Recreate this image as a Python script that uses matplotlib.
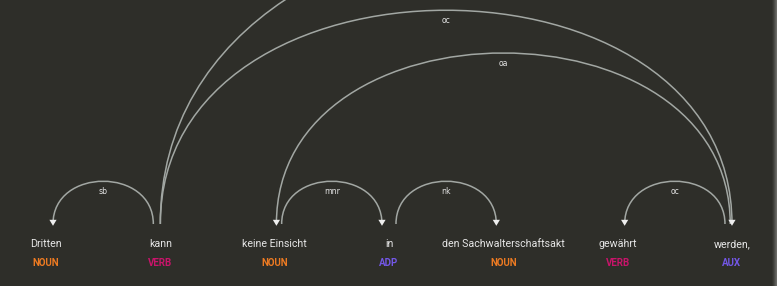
import matplotlib
matplotlib.use("Agg")
import matplotlib.pyplot as plt
from matplotlib.path import Path
from matplotlib.patches import PathPatch, Polygon, Rectangle
import numpy as np

# ---- data ----
words = ["Dritten", "kann", "keine Einsicht", "in",
         "den Sachwalterschaftsakt", "gewährt", "werden,"]
tags = ["NOUN", "VERB", "NOUN", "ADP", "NOUN", "VERB", "AUX"]
arc_heads = [1, 2, 3, 6, 6, 1, 1]
arc_deps = [0, 3, 4, 5, 2, 6, 8]
arc_labels = ["sb", "mnr", "nk", "oc", "oa", "oc", ""]

tag_colors = {"NOUN": "#ec7a22", "VERB": "#c8146a", "ADP": "#7357e6", "AUX": "#7357e6"}

# ---- layout ----
W, H = 777, 286
fig = plt.figure(figsize=(W / 100, H / 100), dpi=100)
ax = fig.add_axes([0, 0, 1, 1])
ax.set_xlim(0, W)
ax.set_ylim(H, 0)
ax.axis("off")
BG = "#2e2e29"
fig.patch.set_facecolor(BG)
ax.set_facecolor(BG)

X0, DIST = 46, 114.33
BASE = 224
LEVEL_H = 57
ARC_COL = "#a2a7a3"
ARROW_COL = "#eeeeee"


def wx(i):
    return X0 + i * DIST


for i, (w, t) in enumerate(zip(words, tags)):
    ax.text(wx(i), 244, w, ha="center", va="center", color="#e6e6e6",
            fontsize=7.7, family=["Roboto", "DejaVu Sans"])
    ax.text(wx(i), 263.5, t, ha="center", va="center", color=tag_colors[t],
            fontsize=7, fontweight="bold",
            family=["Liberation Sans Narrow", "Roboto", "DejaVu Sans"])

for h, d, lab in zip(arc_heads, arc_deps, arc_labels):
    s, e = min(h, d), max(h, d)
    level = e - s
    off = 7 * max(0, 5 - level) / 4
    xs = wx(s) + off
    xe = wx(e) - off
    yc = BASE - level * LEVEL_H
    verts = [(xs, BASE), (xs, yc), (xe, yc), (xe, BASE)]
    codes = [Path.MOVETO, Path.CURVE4, Path.CURVE4, Path.CURVE4]
    ax.add_patch(PathPatch(Path(verts, codes), facecolor="none",
                           edgecolor=ARC_COL, lw=1.1))
    ax_ = xs if d < h else xe
    ax.add_patch(Polygon([(ax_, BASE + 1.8), (ax_ - 3.6, BASE - 4.2),
                          (ax_ + 3.6, BASE - 4.2)], closed=True,
                         facecolor=ARROW_COL, edgecolor="none"))
    top = BASE - 0.75 * level * LEVEL_H
    if lab:
        ax.text((xs + xe) / 2, top + 10, lab, ha="center", va="center",
                color="#e2e2e2", fontsize=5.6, family=["DejaVu Sans"])

# light edge on the right side
for k, c in enumerate(["#34342f", "#3e3e39", "#4c4c48", "#5c5c58", "#6a6a66"]):
    ax.add_patch(Rectangle((772 + k, 0), 1, H, facecolor=c, edgecolor="none"))

fig.savefig("out.png", dpi=100, facecolor=BG)
